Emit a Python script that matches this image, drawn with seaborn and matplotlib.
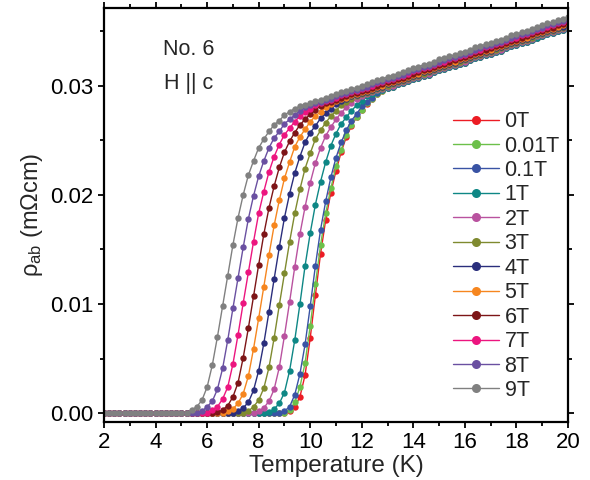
import numpy as np
import pandas as pd
import matplotlib
matplotlib.use("Agg")
import matplotlib.pyplot as plt
from matplotlib.lines import Line2D
from matplotlib.ticker import MultipleLocator, FormatStrFormatter
import seaborn as sns

# ---------------- data ----------------
temperature_K = [
    2.0, 2.2, 2.4, 2.6, 2.8, 3.0, 3.2, 3.4, 3.6, 3.8,
    4.0, 4.2, 4.4, 4.6, 4.8, 5.0, 5.2, 5.4, 5.6, 5.8,
    6.0, 6.2, 6.4, 6.6, 6.8, 7.0, 7.2, 7.4, 7.6, 7.8,
    8.0, 8.2, 8.4, 8.6, 8.8, 9.0, 9.2, 9.4, 9.6, 9.8,
    10.0, 10.2, 10.4, 10.6, 10.8, 11.0, 11.2, 11.4, 11.6, 11.8,
    12.0, 12.2, 12.4, 12.6, 12.8, 13.0, 13.2, 13.4, 13.6, 13.8,
    14.0, 14.2, 14.4, 14.6, 14.8, 15.0, 15.2, 15.4, 15.6, 15.8,
    16.0, 16.2, 16.4, 16.6, 16.8, 17.0, 17.2, 17.4, 17.6, 17.8,
    18.0, 18.2, 18.4, 18.6, 18.8, 19.0, 19.2, 19.4, 19.6, 19.8,
    20.0,
]

fields = ["0T", "0.01T", "0.1T", "1T", "2T", "3T", "4T", "5T", "6T", "7T", "8T", "9T"]
colors = ["#ec1c24", "#6cc04a", "#3953a4", "#0e8785", "#b9529f", "#7f8a2f",
          "#2a2e7c", "#f6861f", "#7d1517", "#ec157f", "#6a50a1", "#808080"]

# resistivity rho_ab in micro-ohm cm (converted to m-ohm cm for plotting)
rho_0T = [0.0] * 36 + [
    0.2, 0.6, 1.5, 3.5, 6.9, 10.8, 14.6, 17.7, 20.2, 22.2,
    23.9, 25.3, 26.3, 27.1, 27.8, 28.3, 28.8, 29.2, 29.5,
    29.8, 29.9, 30.1, 30.2, 30.4, 30.6, 30.7, 30.9, 31.0, 31.2, 31.4, 31.5, 31.7, 31.8, 32.0, 32.1, 32.3, 32.5,
    32.6, 32.8, 32.9, 33.1, 33.2, 33.4, 33.6, 33.7, 33.9, 34.0, 34.2, 34.4, 34.5, 34.7, 34.8, 35.0, 35.1, 35.3]
rho_001T = [0.0] * 36 + [
    0.3, 1.0, 2.4, 4.6, 8.0, 11.8, 15.4, 18.3, 20.6, 22.6,
    24.1, 25.5, 26.4, 27.1, 27.8, 28.4, 28.8, 29.2, 29.5,
    29.8, 29.9, 30.1, 30.2, 30.4, 30.6, 30.7, 30.9, 31.0, 31.2, 31.4, 31.5, 31.7, 31.8, 32.0, 32.1, 32.3, 32.5,
    32.6, 32.8, 32.9, 33.1, 33.2, 33.4, 33.6, 33.7, 33.9, 34.0, 34.2, 34.4, 34.5, 34.7, 34.8, 35.0, 35.1, 35.3]
rho_01T = [0.0] * 35 + [
    0.2, 0.6, 1.7, 3.6, 6.3, 9.8, 13.5, 16.8, 19.4, 21.6,
    23.4, 24.8, 25.9, 26.8, 27.4, 28.1, 28.5, 28.9, 29.3, 29.6,
    29.8, 29.9, 30.1, 30.2, 30.4, 30.6, 30.7, 30.9, 31.0, 31.2, 31.4, 31.5, 31.7, 31.8, 32.0, 32.1, 32.3, 32.5,
    32.6, 32.8, 32.9, 33.1, 33.2, 33.4, 33.6, 33.7, 33.9, 34.0, 34.2, 34.4, 34.5, 34.7, 34.8, 35.0, 35.1, 35.3]
rho_1T = [0.0] * 32 + [
    0.1, 0.4, 0.9, 1.9, 3.9, 6.7, 10.0, 13.5, 16.5, 19.1,
    21.2, 23.0, 24.5, 25.6, 26.5, 27.1, 27.7, 28.2, 28.6, 29.0,
    29.2, 29.5, 29.6,
    29.8, 29.9, 30.1, 30.2, 30.4, 30.6, 30.7, 30.9, 31.0, 31.2, 31.4, 31.5, 31.7, 31.8, 32.0, 32.1, 32.3, 32.5,
    32.6, 32.8, 32.9, 33.1, 33.2, 33.4, 33.6, 33.7, 33.9, 34.0, 34.2, 34.4, 34.5, 34.7, 34.8, 35.0, 35.1, 35.3]
rho_2T = [0.0] * 30 + [
    0.2, 0.5, 1.1, 2.2, 4.2, 7.1, 10.2, 13.4, 16.4, 18.9,
    21.1, 22.9, 24.3, 25.4, 26.2, 26.9, 27.5, 28.0, 28.4, 28.8,
    29.0, 29.2, 29.4, 29.6, 29.7,
    29.9, 30.0, 30.2, 30.3, 30.5, 30.7, 30.8, 31.0, 31.1, 31.3, 31.5, 31.6, 31.8, 31.9, 32.1, 32.2, 32.4, 32.6,
    32.7, 32.9, 33.0, 33.2, 33.3, 33.5, 33.7, 33.8, 34.0, 34.1, 34.3, 34.5, 34.6, 34.8, 34.9, 35.1, 35.2, 35.4]
rho_3T = [0.0] * 28 + [
    0.2, 0.6, 1.2, 2.3, 4.2, 6.9, 9.9, 12.8, 15.7, 18.3,
    20.5, 22.4, 23.8, 25.1, 25.9, 26.6, 27.2, 27.7, 28.2, 28.5,
    28.8, 29.0, 29.2, 29.3, 29.5, 29.7, 29.8,
    30.0, 30.1, 30.3, 30.4, 30.6, 30.8, 30.9, 31.1, 31.2, 31.4, 31.6, 31.7, 31.9, 32.0, 32.2, 32.3, 32.5, 32.7,
    32.8, 33.0, 33.1, 33.3, 33.4, 33.6, 33.8, 33.9, 34.1, 34.2, 34.4, 34.6, 34.7, 34.9, 35.0, 35.2, 35.3, 35.5]
rho_4T = [0.0] * 26 + [
    0.2, 0.5, 1.0, 2.1, 3.9, 6.4, 9.3, 12.3, 15.2, 17.9,
    20.1, 22.0, 23.5, 24.8, 25.7, 26.3, 27.0, 27.5, 27.9, 28.3,
    28.6, 28.8, 29.0, 29.1, 29.3, 29.4, 29.6, 29.8, 29.9,
    30.1, 30.2, 30.4, 30.5, 30.7, 30.9, 31.0, 31.2, 31.3, 31.5, 31.7, 31.8, 32.0, 32.1, 32.3, 32.4, 32.6, 32.8,
    32.9, 33.1, 33.2, 33.4, 33.5, 33.7, 33.9, 34.0, 34.2, 34.3, 34.5, 34.7, 34.8, 35.0, 35.1, 35.3, 35.4, 35.6]
rho_5T = [0.0] * 24 + [
    0.2, 0.4, 0.9, 1.8, 3.4, 5.9, 8.7, 11.6, 14.5, 17.2,
    19.5, 21.5, 23.0, 24.4, 25.3, 26.0, 26.7, 27.2, 27.6, 28.0,
    28.3, 28.6, 28.8, 28.9, 29.1, 29.2, 29.4, 29.5, 29.7, 29.9,
    30.0,
    30.2, 30.3, 30.5, 30.6, 30.8, 31.0, 31.1, 31.3, 31.4, 31.6, 31.8, 31.9, 32.1, 32.2, 32.4, 32.5, 32.7, 32.9,
    33.0, 33.2, 33.3, 33.5, 33.6, 33.8, 34.0, 34.1, 34.3, 34.4, 34.6, 34.8, 34.9, 35.1, 35.2, 35.4, 35.5, 35.7]
rho_6T = [0.0] * 22 + [
    0.1, 0.3, 0.7, 1.5, 2.8, 5.1, 7.8, 10.7, 13.6, 16.4,
    18.8, 20.8, 22.5, 23.9, 24.9, 25.7, 26.4, 26.9, 27.4, 27.8,
    28.1, 28.4, 28.5, 28.7, 28.9, 29.0, 29.2, 29.3, 29.5, 29.6,
    29.8, 30.0, 30.1,
    30.3, 30.4, 30.6, 30.7, 30.9, 31.1, 31.2, 31.4, 31.5, 31.7, 31.9, 32.0, 32.2, 32.3, 32.5, 32.6, 32.8, 33.0,
    33.1, 33.3, 33.4, 33.6, 33.7, 33.9, 34.1, 34.2, 34.4, 34.5, 34.7, 34.9, 35.0, 35.2, 35.3, 35.5, 35.6, 35.8]
rho_7T = [0.0] * 21 + [
    0.3, 0.6, 1.3, 2.4, 4.5, 7.2, 10.1, 12.9, 15.7, 18.3,
    20.3, 22.1, 23.5, 24.6, 25.5, 26.1, 26.7, 27.2, 27.6, 27.9,
    28.2, 28.4, 28.6, 28.7, 28.9, 29.1, 29.2, 29.4, 29.5, 29.7,
    29.8, 30.0, 30.2, 30.3,
    30.5, 30.6, 30.8, 30.9, 31.1, 31.3, 31.4, 31.6, 31.7, 31.9, 32.1, 32.2, 32.4, 32.5, 32.7, 32.8, 33.0, 33.2,
    33.3, 33.5, 33.6, 33.8, 33.9, 34.1, 34.3, 34.4, 34.6, 34.7, 34.9, 35.1, 35.2, 35.4, 35.5, 35.7, 35.8, 36.0]
rho_8T = [0.0] * 19 + [
    0.2, 0.6, 1.1, 2.2, 4.1, 6.7, 9.6, 12.4, 15.2, 17.8,
    19.9, 21.7, 23.1, 24.3, 25.2, 25.8, 26.5, 26.9, 27.3, 27.7,
    28.0, 28.2, 28.4, 28.5, 28.7, 28.8, 29.0, 29.2, 29.3, 29.5,
    29.6, 29.8, 29.9, 30.1, 30.3, 30.4,
    30.6, 30.7, 30.9, 31.0, 31.2, 31.4, 31.5, 31.7, 31.8, 32.0, 32.2, 32.3, 32.5, 32.6, 32.8, 32.9, 33.1, 33.3,
    33.4, 33.6, 33.7, 33.9, 34.0, 34.2, 34.4, 34.5, 34.7, 34.8, 35.0, 35.2, 35.3, 35.5, 35.6, 35.8, 35.9, 36.1]
rho_9T = [0.0] * 17 + [
    0.3, 0.6, 1.2, 2.4, 4.4, 7.0, 9.8, 12.6, 15.4, 17.9,
    20.0, 21.8, 23.1, 24.3, 25.1, 25.8, 26.4, 26.8, 27.3, 27.6,
    27.9, 28.1, 28.2, 28.4, 28.6, 28.7, 28.9, 29.0, 29.2, 29.4,
    29.5, 29.7, 29.8, 30.0, 30.1, 30.3, 30.5, 30.6,
    30.8, 30.9, 31.1, 31.2, 31.4, 31.6, 31.7, 31.9, 32.0, 32.2, 32.4, 32.5, 32.7, 32.8, 33.0, 33.1, 33.3, 33.5,
    33.6, 33.8, 33.9, 34.1, 34.2, 34.4, 34.6, 34.7, 34.9, 35.0, 35.2, 35.4, 35.5, 35.7, 35.8, 36.0, 36.1, 36.3]

all_rho = [rho_0T, rho_001T, rho_01T, rho_1T, rho_2T, rho_3T,
           rho_4T, rho_5T, rho_6T, rho_7T, rho_8T, rho_9T]

# ---------------- build long table ----------------
frames = []
for name, vals in zip(fields, all_rho):
    assert len(vals) == len(temperature_K), (name, len(vals))
    frames.append(pd.DataFrame({"T": temperature_K,
                                "rho": np.array(vals) / 1000.0,
                                "field": name}))
df = pd.concat(frames, ignore_index=True)

# ---------------- style ----------------
sns.set_style("ticks")
plt.rcParams["font.family"] = ["Liberation Sans", "DejaVu Sans"]
plt.rcParams["mathtext.fontset"] = "custom"
plt.rcParams["mathtext.rm"] = "Liberation Sans"
plt.rcParams["mathtext.it"] = "Liberation Sans:italic"

fig = plt.figure(figsize=(5.9, 4.8), dpi=100)
ax = fig.add_axes([0.1763, 0.1208, 0.7864, 0.8625])

palette = dict(zip(fields, colors))
sns.lineplot(data=df, x="T", y="rho", hue="field", hue_order=fields,
             palette=palette, estimator=None, sort=True,
             marker="o", markersize=4.6, markeredgewidth=0,
             linewidth=1.0, legend=False, ax=ax)

ax.set_xlim(2, 20)
ax.set_ylim(-0.0008, 0.0371)
ax.xaxis.set_major_locator(MultipleLocator(2))
ax.xaxis.set_minor_locator(MultipleLocator(1))
ax.yaxis.set_major_locator(MultipleLocator(0.01))
ax.yaxis.set_minor_locator(MultipleLocator(0.005))
ax.yaxis.set_major_formatter(FormatStrFormatter("%.2f"))

for s in ax.spines.values():
    s.set_linewidth(1.6)
    s.set_color("black")
ax.tick_params(which="both", direction="out", top=True, right=True,
               width=1.3, colors="black", labelsize=16, pad=3)
ax.tick_params(which="major", length=4.5)
ax.tick_params(which="minor", length=3)
ax.tick_params(axis="x", labeltop=False)
ax.tick_params(axis="y", labelright=False)

ax.set_xlabel("Temperature (K)", fontsize=17.5, labelpad=1)
ax.set_ylabel(r"ρ$_{\mathregular{ab}}$ (mΩcm)", fontsize=17, labelpad=4)

ax.text(5.28, 0.0333, "No. 6", fontsize=15.5, ha="center", va="center")
ax.text(5.28, 0.0302, "H || c", fontsize=15.5, ha="center", va="center")

handles = [Line2D([0], [0], color=c, marker="o", markersize=6.5,
                  markeredgewidth=0, linewidth=1.0) for c in colors]
leg = ax.legend(handles, fields, loc="upper left",
                bbox_to_anchor=(0.752, 0.751), frameon=False,
                fontsize=15.5, handlelength=2.12, handletextpad=0.28,
                labelspacing=0.16, borderaxespad=0, borderpad=0)

fig.savefig("out.png", dpi=100)
